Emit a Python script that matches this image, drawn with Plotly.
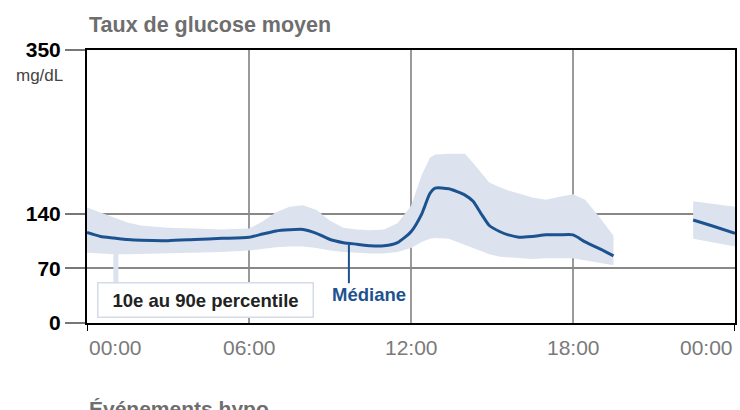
import numpy as np
import plotly.graph_objects as go

# ---- data ----
hours = [0, 0.5, 1, 1.5, 2, 3, 4, 5, 6, 6.5, 7, 7.5, 8, 8.5, 9, 9.5, 10, 10.5, 11, 11.5,
         12, 12.4, 12.7, 12.9, 13.4, 14.0, 14.3, 14.6, 14.9, 15.3, 15.6, 16, 16.5, 17, 17.5,
         18, 18.45, 19, 19.5, None, 22.45, 23.2, 24]
median = [116, 111, 109, 107, 106, 105.5, 107, 108.5, 110, 114, 118, 119.5, 120, 115, 107, 103,
          101, 99, 99, 103, 117, 140, 166, 173, 172, 164, 156, 140, 125, 117, 113, 110, 111, 113,
          113, 113, 104, 95, 86, None, 132, 124, 115]
p90 = [148, 142, 135, 129, 125, 122, 121, 120, 121, 130, 142, 149, 151, 145, 131, 122, 120, 119,
       120, 128, 150, 190, 212, 216, 217, 217, 205, 192, 180, 174, 170, 166, 161, 158, 162, 165,
       158, 135, 112, None, 156, 153, 149]
p10 = [90, 89, 88, 88, 88, 89, 90, 91, 93, 95, 97, 98, 98, 96, 93, 91, 90, 89, 89, 91, 96, 104,
       108, 109, 108, 101, 97, 92, 88, 85, 84, 83, 82, 83, 83, 83, 80, 77, 74, None, 108, 103, 98]

x_tick_values = [0, 6, 12, 18, 24]
x_tick_labels = ["00:00", "06:00", "12:00", "18:00", "00:00"]
y_tick_values = [0, 70, 140, 350]
y_tick_labels = ["0", "70", "140", "350"]

title_text = "Taux de glucose moyen"
unit_text = "mg/dL"
band_label = "10e au 90e percentile"
median_label = "Médiane"
next_title = "Événements hypo"
median_label_hour = 9.7
band_label_hour = 1.07

# ---- styles ----
BAND = "#dde3ee"
LINE = "#1d5290"
FONT = "Liberation Sans, Arial, sans-serif"


def segments(xs, *cols):
    segs, cur = [], []
    for i, x in enumerate(xs):
        if x is None:
            if cur:
                segs.append(cur)
            cur = []
        else:
            cur.append((x,) + tuple(c[i] for c in cols))
    if cur:
        segs.append(cur)
    return segs


band_x, band_y = [], []
for seg in segments(hours, p90, p10):
    hs = [s[0] for s in seg]
    up = [s[1] for s in seg]
    lo = [s[2] for s in seg]
    band_x += hs + hs[::-1] + [None]
    band_y += up + lo[::-1] + [None]

fig = go.Figure()
fig.add_trace(go.Scatter(x=band_x, y=band_y, fill="toself", fillcolor=BAND,
                         line=dict(width=0, color=BAND), mode="lines",
                         hoverinfo="skip", showlegend=False))
fig.add_trace(go.Scatter(x=hours, y=median, mode="lines",
                         line=dict(color=LINE, width=3, shape="spline", smoothing=0.6),
                         connectgaps=False, showlegend=False))

# leader lines
valid = [(h, m, l) for h, m, l in zip(hours, median, p10) if h is not None]
vh = np.array([v[0] for v in valid])
vm = np.array([v[1] for v in valid])
vl = np.array([v[2] for v in valid])
med_at = float(np.interp(median_label_hour, vh, vm))
low_at = float(np.interp(band_label_hour, vh, vl))

fig.add_shape(type="line", xref="x", yref="y", x0=median_label_hour, x1=median_label_hour,
              y0=med_at - 2, y1=51, line=dict(color=LINE, width=2))
fig.add_shape(type="line", xref="x", yref="y", x0=band_label_hour, x1=band_label_hour,
              y0=low_at + 2, y1=52, line=dict(color=BAND, width=5))

# small x tick marks at the ends
for xv in (x_tick_values[0], x_tick_values[-1]):
    fig.add_shape(type="line", xref="x", yref="paper", x0=xv, x1=xv, y0=0, y1=-8 / 273,
                  line=dict(color="black", width=2))

annotations = []
# x tick labels
for i, (xv, lab) in enumerate(zip(x_tick_values, x_tick_labels)):
    anchor = "left" if i == 0 else ("right" if i == len(x_tick_values) - 1 else "center")
    annotations.append(dict(x=xv, y=0, xref="x", yref="paper", text=lab, showarrow=False,
                            xanchor=anchor, yanchor="middle", yshift=-24,
                            font=dict(family=FONT, size=21, color="#7a7a7a")))
annotations += [
    dict(x=0, y=1, xref="paper", yref="paper", text=title_text, showarrow=False,
         xanchor="left", yanchor="middle", yshift=25,
         font=dict(family=FONT, size=21.5, color="#6e6e6e", weight="bold")),
    dict(x=0, y=350, xref="paper", yref="y", text=unit_text, showarrow=False,
         xanchor="right", yanchor="middle", xshift=-22, yshift=-25,
         font=dict(family=FONT, size=17, color="#444444")),
    dict(x=0, y=0, xref="x", yref="y", text=band_label, showarrow=False,
         xanchor="left", yanchor="bottom", xshift=10, yshift=5,
         width=212, height=31, borderpad=1, borderwidth=1.5, bordercolor="#d5dbe8",
         bgcolor="white", font=dict(family=FONT, size=18.5, color="#222222", weight="bold")),
    dict(x=median_label_hour, y=0, xref="x", yref="y", text=median_label, showarrow=False,
         xanchor="left", yanchor="middle", xshift=-19, yshift=29,
         font=dict(family=FONT, size=18.5, color=LINE, weight="bold")),
    dict(x=0, y=0, xref="paper", yref="paper", text=next_title, showarrow=False,
         xanchor="left", yanchor="top", yshift=-72,
         font=dict(family=FONT, size=21, color="#6e6e6e", weight="bold")),
]

fig.update_layout(
    width=740, height=410,
    margin=dict(l=87, r=3, t=50, b=87),
    paper_bgcolor="white", plot_bgcolor="white",
    annotations=annotations,
    showlegend=False,
    xaxis=dict(range=[0, 24], tickmode="array", tickvals=x_tick_values,
               showticklabels=False, ticks="", showgrid=True, gridcolor="#9a9a9a",
               gridwidth=2, showline=True, linecolor="black", linewidth=2, mirror=True,
               zeroline=False, fixedrange=True),
    yaxis=dict(range=[0, 350], tickmode="array", tickvals=y_tick_values,
               ticktext=y_tick_labels, ticks="outside", ticklen=20, tickwidth=2,
               tickcolor="#777777", showgrid=True, gridcolor="#888888", gridwidth=2,
               showline=True, linecolor="black", linewidth=2, mirror=True, zeroline=False,
               tickfont=dict(family=FONT, size=21, color="black", weight="bold"),
               fixedrange=True),
)

fig.write_html(
    "out.html",
    config={"displayModeBar": False},
    post_script="document.body.style.margin='0';document.body.style.overflow='hidden';",
)
